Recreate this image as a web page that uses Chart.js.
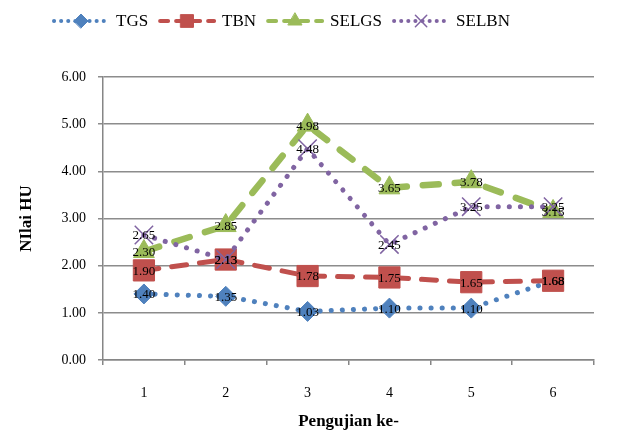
<!DOCTYPE html>
<html><head><meta charset="utf-8">
<script src="https://cdn.jsdelivr.net/npm/chart.js@4.4.0/dist/chart.umd.min.js"></script>
<style>html,body{margin:0;padding:0;background:#fff}</style>
</head><body>
<canvas id="c" width="624" height="436" style="display:block;width:624px;height:436px"></canvas>
<script>
const categories = ['1','2','3','4','5','6'];
const seriesNames = ['TGS','TBN','SELGS','SELBN'];
const tgs = [1.40,1.35,1.03,1.10,1.10,1.68];
const tbn = [1.90,2.13,1.78,1.75,1.65,1.68];
const selgs = [2.30,2.85,4.98,3.65,3.78,3.15];
const selbn = [2.65,2.13,4.48,2.45,3.25,3.25];
const yMin = 0, yMax = 6, yStep = 1;
const xTitle = 'Pengujian ke-';
const yTitle = 'NIlai HU';

const SERIF = '"Liberation Serif","Times New Roman",serif';
const styles = [
  {color:'#4F81BD', dash:[0.1,11], width:5, point:'rectRot', r:10, lr:7, lw:4, ldash:[0.1,7]},
  {color:'#C0504D', dash:[15,13], width:5, point:'rect', r:15, lr:9, lw:4, ldash:[8,8]},
  {color:'#9BBB59', dash:[16,16], width:6.5, point:'triangle', r:12, lr:8, lw:4, ldash:[8,8]},
  {color:'#8064A2', dash:[0.1,11], width:5, point:'crossRot', r:13, lr:8, lw:4, ldash:[0.1,7]}
];
const values = [tgs, tbn, selgs, selbn];

const datasets = values.map((v,i)=>({
  label: seriesNames[i],
  data: v,
  borderColor: styles[i].color,
  backgroundColor: styles[i].color,
  borderWidth: styles[i].width,
  borderDash: styles[i].dash,
  borderCapStyle: 'round',
  pointStyle: styles[i].point,
  pointRadius: styles[i].r,
  pointBorderWidth: i===3 ? 1.5 : 1,
  pointBackgroundColor: styles[i].color,
  pointBorderColor: styles[i].color,
  tension: 0,
  order: 4 - i
}));

const labelPlugin = {
  id: 'labels',
  afterDatasetsDraw(chart){
    const ctx = chart.ctx;
    ctx.save();
    ctx.font = '13px ' + SERIF;
    ctx.fillStyle = '#000';
    ctx.textAlign = 'center';
    ctx.textBaseline = 'middle';
    chart.data.datasets.forEach((ds,i)=>{
      const meta = chart.getDatasetMeta(i);
      meta.data.forEach((pt,j)=>{
        ctx.fillText(ds.data[j].toFixed(2), pt.x, pt.y + 1);
      });
    });
    ctx.restore();
  }
};

const legendPlugin = {
  id: 'customLegend',
  afterDraw(chart){
    const ctx = chart.ctx;
    ctx.save();
    ctx.font = '17px ' + SERIF;
    ctx.textBaseline = 'middle';
    let x = 52;
    const y = 21;
    chart.data.datasets.forEach((ds,i)=>{
      const s = styles[i];
      ctx.save();
      ctx.strokeStyle = s.color;
      ctx.lineWidth = s.lw;
      ctx.lineCap = 'round';
      ctx.setLineDash(s.ldash);
      ctx.beginPath();
      ctx.moveTo(x + 2, y);
      ctx.lineTo(x + 56, y);
      ctx.stroke();
      ctx.setLineDash([]);
      ctx.fillStyle = s.color;
      ctx.strokeStyle = s.color;
      ctx.lineWidth = i===3 ? 1.5 : 1;
      Chart.helpers.drawPoint(ctx, {pointStyle: s.point, radius: s.lr, borderWidth: i===3?1.5:1}, x + 29, y);
      ctx.restore();
      ctx.fillStyle = '#000';
      ctx.fillText(ds.label, x + 64, y + 1);
      x += 64 + ctx.measureText(ds.label).width + 10;
    });
    ctx.restore();
  }
};

new Chart(document.getElementById('c'), {
  type: 'line',
  data: { labels: categories, datasets },
  plugins: [labelPlugin, legendPlugin],
  options: {
    responsive: false,
    animation: false,
    devicePixelRatio: 1,
    layout: { padding: { top: 77, right: 30, left: 0, bottom: 0 } },
    plugins: { legend: { display: false }, tooltip: { enabled: false } },
    scales: {
      x: {
        type: 'category',
        offset: true,
        grid: { offset: true, drawOnChartArea: false, drawTicks: true, tickLength: 5, color: '#868686', lineWidth: 1.5 },
        border: { color: '#868686', width: 1.5 },
        ticks: { color: '#000', font: { family: SERIF, size: 14 }, padding: 20, maxRotation: 0 },
        title: { display: true, text: xTitle, color: '#000', font: { family: SERIF, size: 17, weight: 'bold' }, padding: { top: 4, bottom: 4 } },
        afterFit(s){ s.height = 76; }
      },
      y: {
        min: yMin, max: yMax,
        ticks: { stepSize: yStep, color: '#000', font: { family: SERIF, size: 14 }, padding: 12, callback: v => Number(v).toFixed(2) },
        grid: { color: '#8c8c8c', lineWidth: 1.5, tickLength: 5 },
        border: { color: '#868686', width: 1.5 },
        title: { display: true, text: yTitle, color: '#000', font: { family: SERIF, size: 17, weight: 'bold' }, padding: { top: 16, bottom: 0 } },
        afterFit(s){ s.width = 103; }
      }
    }
  }
});
</script>
</body></html>
